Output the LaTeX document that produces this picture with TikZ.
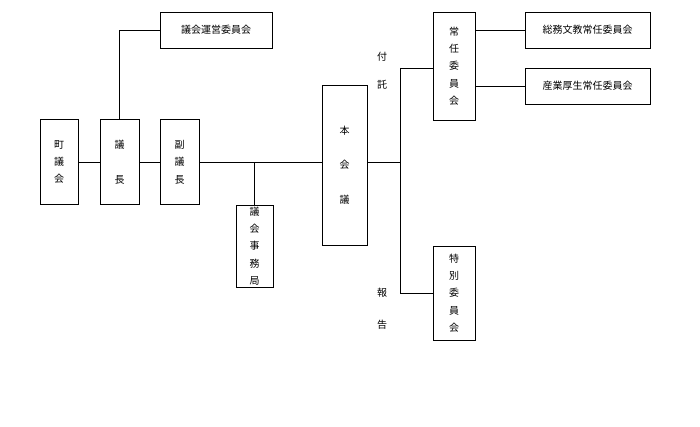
\documentclass[tikz,border=0pt]{standalone}
\usepackage{fontspec}
\newfontfamily\jpfont{Noto Sans CJK JP}
\usetikzlibrary{positioning}
\tikzset{box/.style={draw, inner sep=0pt, font=\jpfont\fontsize{7.5}{13}\selectfont, align=center},
  lbl/.style={font=\jpfont\fontsize{7.5}{9}\selectfont}}
\begin{document}
\begin{tikzpicture}[x=0.75pt, y=-0.75pt]
    \useasboundingbox (0,0) rectangle (700,427);
    \node[box, minimum width=28.5pt, minimum height=64pt] (cho) at (59,162) {町\\議\\会};
    \node[box, minimum width=29pt, minimum height=64pt] (gicho) at (119.5,162) {議\\\\長};
    \node[box, minimum width=29pt, minimum height=64pt] (fuku) at (179.5,162) {副\\議\\長};
    \node[box, minimum width=84pt, minimum height=27pt] (unei) at (216,30) {議会運営委員会};
    \node[box, minimum width=28pt, minimum height=61.5pt] (jimu) at (254.5,246) {議\\会\\事\\務\\局};
    \node[box, minimum width=34pt, minimum height=120pt] (hon) at (344.5,165) {本\\\\会\\\\議};
    \node[box, minimum width=31.5pt, minimum height=81pt] (jonin) at (454,66) {常\\任\\委\\員\\会};
    \node[box, minimum width=94pt, minimum height=27pt] (somu) at (587.5,30) {総務文教常任委員会};
    \node[box, minimum width=94pt, minimum height=27pt] (sangyo) at (587.5,86) {産業厚生常任委員会};
    \node[box, minimum width=31.5pt, minimum height=70.5pt] (tokubetsu) at (454,293) {特\\別\\委\\員\\会};
    \coordinate (top) at (400,68);
    \coordinate (bot) at (400,293);
    \coordinate (mid) at (400,162);
    % connectors
    \draw (cho) -- (gicho) -- (fuku) -- (hon.west |- fuku);
    \draw (gicho.north) |- (unei.west);
    \draw (jimu.north) -- (jimu.north |- fuku.east);
    \draw (hon.east |- mid) -- (mid);
    \draw (top) -- (bot);
    \draw (top) -- (top -| jonin.west);
    \draw (bot) -- (tokubetsu.west |- bot);
    \draw (jonin.east |- somu) -- (somu);
    \draw (jonin.east |- sangyo) -- (sangyo);
    \node[lbl] (fu) at (382,57) {付};
    \node[lbl] (taku) at (382,85) {託};
    \node[lbl] (ho) at (382,293) {報};
    \node[lbl] (koku) at (382,325) {告};
\end{tikzpicture}
\end{document}
